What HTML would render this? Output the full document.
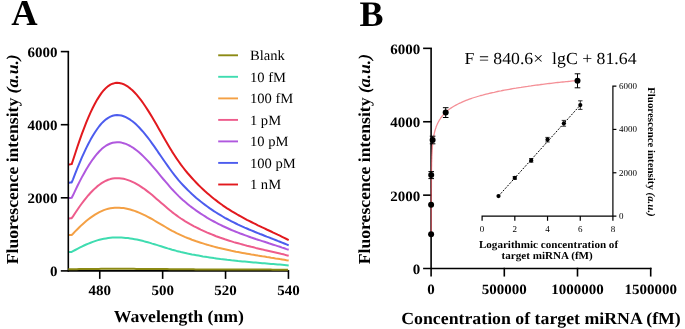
<!DOCTYPE html>
<html><head><meta charset="utf-8"><title>Figure</title>
<style>
html,body{margin:0;padding:0;background:#fff;}
svg{display:block;will-change:transform;}
text{font-family:"Liberation Serif",serif;fill:#000;text-rendering:geometricPrecision;}
.tk{font-size:14.29px;font-weight:bold;}
.ti{font-size:16.86px;font-weight:bold;}
.lg{font-size:14.17px;}
.eq{font-size:16.90px;}
.pl{font-size:36.5px;font-weight:bold;}
.itk{font-size:9px;}
.iti{font-size:10.57px;font-weight:bold;}
.iyt{font-size:10.35px;font-weight:bold;}
</style></head>
<body>
<svg width="685" height="329" viewBox="0 0 685 329">
<rect width="685" height="329" fill="#fff"/>
<!-- Panel A -->
<text transform="translate(11.30,24.90)" class="pl">A</text>
<text transform="translate(18.20,264.20) rotate(-90) scale(1.05,1)" class="ti" style="font-size:16.78px">Fluorescence intensity <tspan font-style="italic">(a.u.)</tspan></text>
<path d="M68.9,252.0 L70.5,251.9 L71.7,251.9 L73.0,251.2 L75.2,250.0 L77.4,248.8 L79.6,247.7 L81.8,246.6 L84.0,245.5 L86.2,244.5 L88.4,243.6 L90.6,242.7 L92.8,241.9 L95.0,241.1 L97.2,240.4 L99.4,239.8 L101.6,239.2 L103.8,238.8 L106.0,238.4 L108.2,238.0 L110.4,237.8 L112.6,237.6 L114.8,237.5 L117.0,237.5 L119.2,237.5 L121.4,237.6 L123.6,237.7 L125.8,237.9 L128.0,238.1 L130.2,238.4 L132.4,238.8 L134.6,239.2 L136.8,239.6 L139.0,240.1 L141.2,240.6 L143.4,241.1 L145.6,241.7 L147.8,242.3 L150.0,242.9 L152.2,243.6 L154.4,244.2 L156.6,244.9 L158.8,245.6 L161.0,246.3 L163.2,247.0 L165.5,247.7 L167.7,248.4 L169.9,249.0 L172.1,249.7 L174.3,250.3 L176.5,250.9 L178.7,251.4 L180.9,252.0 L183.1,252.5 L185.3,253.0 L187.5,253.5 L189.7,253.9 L191.9,254.4 L194.1,254.8 L196.3,255.2 L198.5,255.6 L200.7,256.0 L202.9,256.4 L205.1,256.7 L207.3,257.1 L209.5,257.4 L211.7,257.7 L213.9,258.1 L216.1,258.4 L218.3,258.7 L220.5,259.0 L222.7,259.2 L224.9,259.5 L227.1,259.8 L229.3,260.0 L231.5,260.3 L233.7,260.5 L235.9,260.7 L238.1,261.0 L240.3,261.2 L242.5,261.4 L244.7,261.6 L246.9,261.8 L249.1,262.0 L251.3,262.2 L253.5,262.4 L255.7,262.6 L257.9,262.8 L260.1,263.0 L262.3,263.2 L264.5,263.3 L266.7,263.5 L268.9,263.7 L271.1,263.9 L273.3,264.1 L275.5,264.3 L277.7,264.5 L279.9,264.6 L282.1,264.8 L284.3,265.0 L286.5,265.2 L288.7,265.4" fill="none" stroke="#3fdcb0" stroke-width="2" stroke-linejoin="round"/>
<path d="M68.9,235.1 L70.5,235.0 L71.7,235.0 L73.0,233.7 L75.2,231.4 L77.4,229.2 L79.6,227.0 L81.8,224.9 L84.0,223.0 L86.2,221.1 L88.4,219.3 L90.6,217.6 L92.8,216.1 L95.0,214.6 L97.2,213.3 L99.4,212.1 L101.6,211.1 L103.8,210.1 L106.0,209.4 L108.2,208.8 L110.4,208.3 L112.6,208.0 L114.8,207.7 L117.0,207.7 L119.2,207.7 L121.4,207.9 L123.6,208.1 L125.8,208.5 L128.0,209.0 L130.2,209.5 L132.4,210.2 L134.6,210.9 L136.8,211.7 L139.0,212.6 L141.2,213.6 L143.4,214.6 L145.6,215.7 L147.8,216.8 L150.0,218.0 L152.2,219.2 L154.4,220.5 L156.6,221.8 L158.8,223.1 L161.0,224.4 L163.2,225.7 L165.5,227.0 L167.7,228.3 L169.9,229.6 L172.1,230.8 L174.3,231.9 L176.5,233.1 L178.7,234.1 L180.9,235.1 L183.1,236.1 L185.3,237.1 L187.5,238.0 L189.7,238.8 L191.9,239.7 L194.1,240.5 L196.3,241.3 L198.5,242.0 L200.7,242.7 L202.9,243.4 L205.1,244.1 L207.3,244.8 L209.5,245.4 L211.7,246.0 L213.9,246.6 L216.1,247.2 L218.3,247.8 L220.5,248.3 L222.7,248.8 L224.9,249.3 L227.1,249.8 L229.3,250.3 L231.5,250.8 L233.7,251.2 L235.9,251.7 L238.1,252.1 L240.3,252.5 L242.5,252.9 L244.7,253.3 L246.9,253.7 L249.1,254.1 L251.3,254.5 L253.5,254.8 L255.7,255.2 L257.9,255.6 L260.1,255.9 L262.3,256.3 L264.5,256.6 L266.7,257.0 L268.9,257.3 L271.1,257.7 L273.3,258.0 L275.5,258.4 L277.7,258.7 L279.9,259.1 L282.1,259.4 L284.3,259.8 L286.5,260.2 L288.7,260.5" fill="none" stroke="#f4a044" stroke-width="2" stroke-linejoin="round"/>
<path d="M68.9,218.4 L70.5,218.3 L71.7,218.2 L73.0,216.4 L75.2,213.0 L77.4,209.7 L79.6,206.5 L81.8,203.5 L84.0,200.6 L86.2,197.8 L88.4,195.2 L90.6,192.8 L92.8,190.5 L95.0,188.4 L97.2,186.4 L99.4,184.7 L101.6,183.1 L103.8,181.8 L106.0,180.7 L108.2,179.8 L110.4,179.1 L112.6,178.6 L114.8,178.3 L117.0,178.2 L119.2,178.2 L121.4,178.4 L123.6,178.8 L125.8,179.4 L128.0,180.1 L130.2,180.9 L132.4,181.9 L134.6,182.9 L136.8,184.1 L139.0,185.4 L141.2,186.8 L143.4,188.3 L145.6,189.9 L147.8,191.6 L150.0,193.3 L152.2,195.1 L154.4,197.0 L156.6,198.9 L158.8,200.8 L161.0,202.7 L163.2,204.6 L165.5,206.5 L167.7,208.4 L169.9,210.3 L172.1,212.1 L174.3,213.8 L176.5,215.4 L178.7,217.0 L180.9,218.5 L183.1,219.9 L185.3,221.3 L187.5,222.6 L189.7,223.9 L191.9,225.1 L194.1,226.3 L196.3,227.4 L198.5,228.5 L200.7,229.6 L202.9,230.6 L205.1,231.6 L207.3,232.6 L209.5,233.5 L211.7,234.4 L213.9,235.3 L216.1,236.2 L218.3,237.0 L220.5,237.8 L222.7,238.5 L224.9,239.3 L227.1,240.0 L229.3,240.7 L231.5,241.4 L233.7,242.1 L235.9,242.7 L238.1,243.3 L240.3,243.9 L242.5,244.5 L244.7,245.1 L246.9,245.7 L249.1,246.2 L251.3,246.8 L253.5,247.3 L255.7,247.9 L257.9,248.4 L260.1,248.9 L262.3,249.4 L264.5,250.0 L266.7,250.5 L268.9,251.0 L271.1,251.5 L273.3,252.0 L275.5,252.5 L277.7,253.0 L279.9,253.5 L282.1,254.1 L284.3,254.6 L286.5,255.2 L288.7,255.7" fill="none" stroke="#ee5c8c" stroke-width="2" stroke-linejoin="round"/>
<path d="M68.9,198.1 L70.5,197.9 L71.7,197.8 L73.0,195.3 L75.2,190.6 L77.4,186.0 L79.6,181.6 L81.8,177.4 L84.0,173.4 L86.2,169.5 L88.4,165.9 L90.6,162.5 L92.8,159.3 L95.0,156.4 L97.2,153.7 L99.4,151.3 L101.6,149.1 L103.8,147.3 L106.0,145.7 L108.2,144.5 L110.4,143.5 L112.6,142.8 L114.8,142.4 L117.0,142.2 L119.2,142.3 L121.4,142.6 L123.6,143.2 L125.8,143.9 L128.0,144.9 L130.2,146.0 L132.4,147.3 L134.6,148.9 L136.8,150.5 L139.0,152.3 L141.2,154.3 L143.4,156.4 L145.6,158.6 L147.8,160.9 L150.0,163.3 L152.2,165.8 L154.4,168.3 L156.6,170.9 L158.8,173.6 L161.0,176.3 L163.2,179.0 L165.5,181.6 L167.7,184.2 L169.9,186.8 L172.1,189.3 L174.3,191.6 L176.5,193.9 L178.7,196.1 L180.9,198.2 L183.1,200.2 L185.3,202.1 L187.5,203.9 L189.7,205.7 L191.9,207.4 L194.1,209.0 L196.3,210.6 L198.5,212.1 L200.7,213.6 L202.9,215.0 L205.1,216.4 L207.3,217.8 L209.5,219.1 L211.7,220.3 L213.9,221.5 L216.1,222.7 L218.3,223.8 L220.5,224.9 L222.7,226.0 L224.9,227.0 L227.1,228.0 L229.3,229.0 L231.5,230.0 L233.7,230.9 L235.9,231.8 L238.1,232.6 L240.3,233.5 L242.5,234.3 L244.7,235.1 L246.9,235.9 L249.1,236.7 L251.3,237.5 L253.5,238.2 L255.7,239.0 L257.9,239.7 L260.1,240.4 L262.3,241.1 L264.5,241.8 L266.7,242.5 L268.9,243.3 L271.1,244.0 L273.3,244.7 L275.5,245.4 L277.7,246.1 L279.9,246.8 L282.1,247.6 L284.3,248.3 L286.5,249.1 L288.7,249.8" fill="none" stroke="#b058de" stroke-width="2" stroke-linejoin="round"/>
<path d="M68.9,182.7 L70.5,182.5 L71.7,182.4 L73.0,179.3 L75.2,173.6 L77.4,168.1 L79.6,162.8 L81.8,157.7 L84.0,152.8 L86.2,148.1 L88.4,143.7 L90.6,139.6 L92.8,135.8 L95.0,132.2 L97.2,129.0 L99.4,126.0 L101.6,123.4 L103.8,121.2 L106.0,119.3 L108.2,117.8 L110.4,116.6 L112.6,115.8 L114.8,115.3 L117.0,115.1 L119.2,115.2 L121.4,115.5 L123.6,116.2 L125.8,117.1 L128.0,118.3 L130.2,119.7 L132.4,121.3 L134.6,123.1 L136.8,125.1 L139.0,127.3 L141.2,129.7 L143.4,132.2 L145.6,134.8 L147.8,137.6 L150.0,140.5 L152.2,143.6 L154.4,146.7 L156.6,149.8 L158.8,153.1 L161.0,156.3 L163.2,159.5 L165.5,162.8 L167.7,165.9 L169.9,169.0 L172.1,172.0 L174.3,174.9 L176.5,177.6 L178.7,180.3 L180.9,182.8 L183.1,185.2 L185.3,187.5 L187.5,189.8 L189.7,191.9 L191.9,194.0 L194.1,195.9 L196.3,197.9 L198.5,199.7 L200.7,201.5 L202.9,203.2 L205.1,204.9 L207.3,206.5 L209.5,208.1 L211.7,209.6 L213.9,211.1 L216.1,212.5 L218.3,213.9 L220.5,215.2 L222.7,216.5 L224.9,217.8 L227.1,219.0 L229.3,220.2 L231.5,221.3 L233.7,222.4 L235.9,223.5 L238.1,224.6 L240.3,225.6 L242.5,226.6 L244.7,227.6 L246.9,228.5 L249.1,229.5 L251.3,230.4 L253.5,231.3 L255.7,232.2 L257.9,233.1 L260.1,234.0 L262.3,234.8 L264.5,235.7 L266.7,236.6 L268.9,237.4 L271.1,238.3 L273.3,239.1 L275.5,240.0 L277.7,240.9 L279.9,241.7 L282.1,242.6 L284.3,243.5 L286.5,244.4 L288.7,245.4" fill="none" stroke="#4c5cee" stroke-width="2" stroke-linejoin="round"/>
<path d="M68.9,164.5 L70.5,164.3 L71.7,164.1 L73.0,160.3 L75.2,153.5 L77.4,146.8 L79.6,140.4 L81.8,134.2 L84.0,128.3 L86.2,122.7 L88.4,117.4 L90.6,112.4 L92.8,107.8 L95.0,103.5 L97.2,99.6 L99.4,96.1 L101.6,92.9 L103.8,90.2 L106.0,87.9 L108.2,86.1 L110.4,84.7 L112.6,83.7 L114.8,83.1 L117.0,82.8 L119.2,82.9 L121.4,83.4 L123.6,84.2 L125.8,85.3 L128.0,86.7 L130.2,88.4 L132.4,90.3 L134.6,92.5 L136.8,94.9 L139.0,97.6 L141.2,100.4 L143.4,103.5 L145.6,106.7 L147.8,110.1 L150.0,113.6 L152.2,117.2 L154.4,121.0 L156.6,124.8 L158.8,128.7 L161.0,132.6 L163.2,136.5 L165.5,140.4 L167.7,144.2 L169.9,147.9 L172.1,151.6 L174.3,155.0 L176.5,158.4 L178.7,161.5 L180.9,164.6 L183.1,167.5 L185.3,170.3 L187.5,173.0 L189.7,175.5 L191.9,178.0 L194.1,180.4 L196.3,182.7 L198.5,185.0 L200.7,187.1 L202.9,189.2 L205.1,191.3 L207.3,193.2 L209.5,195.1 L211.7,196.9 L213.9,198.7 L216.1,200.4 L218.3,202.1 L220.5,203.7 L222.7,205.3 L224.9,206.8 L227.1,208.3 L229.3,209.7 L231.5,211.1 L233.7,212.4 L235.9,213.7 L238.1,215.0 L240.3,216.2 L242.5,217.4 L244.7,218.6 L246.9,219.8 L249.1,220.9 L251.3,222.0 L253.5,223.1 L255.7,224.2 L257.9,225.3 L260.1,226.3 L262.3,227.4 L264.5,228.4 L266.7,229.5 L268.9,230.5 L271.1,231.5 L273.3,232.6 L275.5,233.6 L277.7,234.7 L279.9,235.7 L282.1,236.8 L284.3,237.9 L286.5,239.0 L288.7,240.1" fill="none" stroke="#e2191e" stroke-width="2" stroke-linejoin="round"/>
<path d="M68.3,51.60 V270.9 H288.45" fill="none" stroke="#000" stroke-width="1.6"/>
<line x1="60.8" y1="270.90" x2="69.1" y2="270.90" stroke="#000" stroke-width="1.6"/>
<text transform="translate(57.40,276.20) scale(1.05,1)" class="tk" text-anchor="end">0</text>
<line x1="60.8" y1="197.80" x2="69.1" y2="197.80" stroke="#000" stroke-width="1.6"/>
<text transform="translate(57.40,203.10) scale(1.05,1)" class="tk" text-anchor="end">2000</text>
<line x1="60.8" y1="124.70" x2="69.1" y2="124.70" stroke="#000" stroke-width="1.6"/>
<text transform="translate(57.40,130.00) scale(1.05,1)" class="tk" text-anchor="end">4000</text>
<line x1="60.8" y1="51.60" x2="69.1" y2="51.60" stroke="#000" stroke-width="1.6"/>
<text transform="translate(57.40,56.90) scale(1.05,1)" class="tk" text-anchor="end">6000</text>
<line x1="99.75" y1="270.09999999999997" x2="99.75" y2="278.9" stroke="#000" stroke-width="1.6"/>
<text transform="translate(99.75,295.20) scale(1.05,1)" class="tk" text-anchor="middle">480</text>
<line x1="162.65" y1="270.09999999999997" x2="162.65" y2="278.9" stroke="#000" stroke-width="1.6"/>
<text transform="translate(162.65,295.20) scale(1.05,1)" class="tk" text-anchor="middle">500</text>
<line x1="225.55" y1="270.09999999999997" x2="225.55" y2="278.9" stroke="#000" stroke-width="1.6"/>
<text transform="translate(225.55,295.20) scale(1.05,1)" class="tk" text-anchor="middle">520</text>
<line x1="288.45" y1="270.09999999999997" x2="288.45" y2="278.9" stroke="#000" stroke-width="1.6"/>
<text transform="translate(288.45,295.20) scale(1.05,1)" class="tk" text-anchor="middle">540</text>
<path d="M68.3,269.3 L69.9,269.3 L71.1,269.3 L72.4,269.2 L74.6,269.2 L76.8,269.2 L79.0,269.1 L81.2,269.1 L83.4,269.0 L85.6,269.0 L87.8,269.0 L90.0,269.0 L92.2,268.9 L94.4,268.9 L96.6,268.9 L98.8,268.9 L101.0,268.8 L103.2,268.8 L105.4,268.8 L107.6,268.8 L109.8,268.8 L112.0,268.8 L114.2,268.8 L116.4,268.8 L118.6,268.8 L120.8,268.8 L123.0,268.8 L125.2,268.8 L127.4,268.8 L129.6,268.8 L131.8,268.8 L134.0,268.8 L136.2,268.9 L138.4,268.9 L140.6,268.9 L142.8,268.9 L145.0,268.9 L147.2,268.9 L149.4,269.0 L151.6,269.0 L153.8,269.0 L156.0,269.0 L158.2,269.0 L160.4,269.1 L162.6,269.1 L164.9,269.1 L167.1,269.1 L169.3,269.2 L171.5,269.2 L173.7,269.2 L175.9,269.2 L178.1,269.2 L180.3,269.3 L182.5,269.3 L184.7,269.3 L186.9,269.3 L189.1,269.3 L191.3,269.3 L193.5,269.3 L195.7,269.4 L197.9,269.4 L200.1,269.4 L202.3,269.4 L204.5,269.4 L206.7,269.4 L208.9,269.4 L211.1,269.4 L213.3,269.5 L215.5,269.5 L217.7,269.5 L219.9,269.5 L222.1,269.5 L224.3,269.5 L226.5,269.5 L228.7,269.5 L230.9,269.5 L233.1,269.5 L235.3,269.5 L237.5,269.6 L239.7,269.6 L241.9,269.6 L244.1,269.6 L246.3,269.6 L248.5,269.6 L250.7,269.6 L252.9,269.6 L255.1,269.6 L257.3,269.6 L259.5,269.6 L261.7,269.6 L263.9,269.6 L266.1,269.6 L268.3,269.6 L270.5,269.6 L272.7,269.7 L274.9,269.7 L277.1,269.7 L279.3,269.7 L281.5,269.7 L283.7,269.7 L285.9,269.7 L288.1,269.7" fill="none" stroke="#8c8a14" stroke-width="2"/>
<text transform="translate(178.80,321.50) scale(1.05,1)" class="ti" text-anchor="middle">Wavelength (nm)</text>
<line x1="218.2" y1="55.3" x2="238" y2="55.3" stroke="#8c8a14" stroke-width="1.9"/>
<text transform="translate(249.90,60.20) scale(1.03,1)" class="lg">Blank</text>
<line x1="218.2" y1="76.8" x2="238" y2="76.8" stroke="#3fdcb0" stroke-width="1.9"/>
<text transform="translate(249.90,81.73) scale(1.03,1)" class="lg">10 fM</text>
<line x1="218.2" y1="98.4" x2="238" y2="98.4" stroke="#f4a044" stroke-width="1.9"/>
<text transform="translate(249.90,103.26) scale(1.03,1)" class="lg">100 fM</text>
<line x1="218.2" y1="119.9" x2="238" y2="119.9" stroke="#ee5c8c" stroke-width="1.9"/>
<text transform="translate(249.90,124.79) scale(1.03,1)" class="lg">1 pM</text>
<line x1="218.2" y1="141.4" x2="238" y2="141.4" stroke="#b058de" stroke-width="1.9"/>
<text transform="translate(249.90,146.32) scale(1.03,1)" class="lg">10 pM</text>
<line x1="218.2" y1="162.9" x2="238" y2="162.9" stroke="#4c5cee" stroke-width="1.9"/>
<text transform="translate(249.90,167.85) scale(1.03,1)" class="lg">100 pM</text>
<line x1="218.2" y1="184.5" x2="238" y2="184.5" stroke="#e2191e" stroke-width="1.9"/>
<text transform="translate(249.90,189.38) scale(1.03,1)" class="lg">1 nM</text>
<!-- Panel B -->
<text transform="translate(359.60,25.50)" class="pl" style="font-size:36.00px">B</text>
<text transform="translate(370.30,264.20) rotate(-90) scale(1.05,1)" class="ti" style="font-size:16.81px">Fluorescence intensity <tspan font-style="italic">(a.u.)</tspan></text>
<path d="M431.1,48.35 V276.55" fill="none" stroke="#000" stroke-width="1.6"/>
<path d="M423.1,268.55 H651.50" fill="none" stroke="#000" stroke-width="1.6"/>
<line x1="423.1" y1="195.15" x2="431.90000000000003" y2="195.15" stroke="#000" stroke-width="1.6"/>
<line x1="423.1" y1="121.75" x2="431.90000000000003" y2="121.75" stroke="#000" stroke-width="1.6"/>
<line x1="423.1" y1="48.35" x2="431.90000000000003" y2="48.35" stroke="#000" stroke-width="1.6"/>
<text transform="translate(420.20,273.95) scale(1.05,1)" class="tk" text-anchor="end">0</text>
<text transform="translate(420.20,200.55) scale(1.05,1)" class="tk" text-anchor="end">2000</text>
<text transform="translate(420.20,127.15) scale(1.05,1)" class="tk" text-anchor="end">4000</text>
<text transform="translate(420.20,53.75) scale(1.05,1)" class="tk" text-anchor="end">6000</text>
<text transform="translate(431.10,294.40) scale(1.05,1)" class="tk" text-anchor="middle">0</text>
<line x1="504.30" y1="267.75" x2="504.30" y2="276.55" stroke="#000" stroke-width="1.6"/>
<text transform="translate(504.30,294.40) scale(1.05,1)" class="tk" text-anchor="middle">500000</text>
<line x1="577.50" y1="267.75" x2="577.50" y2="276.55" stroke="#000" stroke-width="1.6"/>
<text transform="translate(577.50,294.40) scale(1.05,1)" class="tk" text-anchor="middle">1000000</text>
<line x1="650.70" y1="267.75" x2="650.70" y2="276.55" stroke="#000" stroke-width="1.6"/>
<text transform="translate(650.70,294.40) scale(1.05,1)" class="tk" text-anchor="middle">1500000</text>
<path d="M431.3,235.6 L431.3,235.0 L431.3,234.3 L431.3,233.7 L431.3,233.1 L431.3,232.5 L431.3,231.9 L431.3,231.2 L431.3,230.6 L431.3,230.0 L431.3,229.4 L431.3,228.8 L431.3,228.1 L431.3,227.5 L431.3,226.9 L431.3,226.3 L431.3,225.7 L431.3,225.0 L431.3,224.4 L431.3,223.8 L431.3,223.2 L431.3,222.6 L431.3,221.9 L431.3,221.3 L431.3,220.7 L431.3,220.1 L431.3,219.5 L431.3,218.8 L431.3,218.2 L431.3,217.6 L431.3,217.0 L431.3,216.4 L431.3,215.7 L431.3,215.1 L431.3,214.5 L431.3,213.9 L431.3,213.3 L431.3,212.6 L431.3,212.0 L431.3,211.4 L431.3,210.8 L431.3,210.2 L431.3,209.5 L431.3,208.9 L431.3,208.3 L431.3,207.7 L431.3,207.1 L431.3,206.4 L431.3,205.8 L431.3,205.2 L431.3,204.6 L431.3,204.0 L431.3,203.3 L431.3,202.7 L431.3,202.1 L431.3,201.5 L431.3,200.9 L431.3,200.2 L431.3,199.6 L431.3,199.0 L431.3,198.4 L431.3,197.8 L431.3,197.1 L431.3,196.5 L431.3,195.9 L431.3,195.3 L431.3,194.7 L431.3,194.0 L431.3,193.4 L431.3,192.8 L431.3,192.2 L431.3,191.6 L431.3,190.9 L431.3,190.3 L431.3,189.7 L431.3,189.1 L431.3,188.5 L431.4,187.8 L431.4,187.2 L431.4,186.6 L431.4,186.0 L431.4,185.4 L431.4,184.7 L431.4,184.1 L431.4,183.5 L431.4,182.9 L431.4,182.3 L431.4,181.6 L431.4,181.0 L431.4,180.4 L431.4,179.8 L431.4,179.2 L431.4,178.5 L431.4,177.9 L431.4,177.3 L431.4,176.7 L431.4,176.1 L431.4,175.4 L431.4,174.8 L431.4,174.2 L431.4,173.6 L431.5,173.0 L431.5,172.3 L431.5,171.7 L431.5,171.1 L431.5,170.5 L431.5,169.9 L431.5,169.2 L431.5,168.6 L431.5,168.0 L431.5,167.4 L431.5,166.8 L431.6,166.1 L431.6,165.5 L431.6,164.9 L431.6,164.3 L431.6,163.7 L431.6,163.0 L431.6,162.4 L431.7,161.8 L431.7,161.2 L431.7,160.6 L431.7,159.9 L431.7,159.3 L431.8,158.7 L431.8,158.1 L431.8,157.4 L431.8,156.8 L431.8,156.2 L431.9,155.6 L431.9,155.0 L431.9,154.3 L432.0,153.7 L432.0,153.1 L432.0,152.5 L432.1,151.9 L432.1,151.2 L432.1,150.6 L432.2,150.0 L432.2,149.4 L432.3,148.8 L432.3,148.1 L432.3,147.5 L432.4,146.9 L432.4,146.3 L432.5,145.7 L432.6,145.0 L432.6,144.4 L432.7,143.8 L432.7,143.2 L432.8,142.6 L432.9,141.9 L433.0,141.3 L433.0,140.7 L433.1,140.1 L433.2,139.5 L433.3,138.8 L433.4,138.2 L433.5,137.6 L433.6,137.0 L433.7,136.4 L433.8,135.7 L433.9,135.1 L434.1,134.5 L434.2,133.9 L434.3,133.2 L434.5,132.6 L434.6,132.0 L434.8,131.4 L435.0,130.8 L435.1,130.1 L435.3,129.5 L435.5,128.9 L435.7,128.3 L435.9,127.7 L436.1,127.0 L436.3,126.4 L436.6,125.8 L436.8,125.2 L437.1,124.6 L437.4,123.9 L437.7,123.3 L438.0,122.7 L438.3,122.1 L438.6,121.4 L439.0,120.8 L439.3,120.2 L439.7,119.6 L440.1,119.0 L440.5,118.3 L441.0,117.7 L441.4,117.1 L441.9,116.5 L442.4,115.8 L442.9,115.2 L443.5,114.6 L444.0,114.0 L444.6,113.3 L445.3,112.7 L445.9,112.1 L447.6,110.6 L449.3,109.3 L450.9,108.1 L452.6,107.0 L454.3,106.0 L455.9,105.1 L457.6,104.2 L459.3,103.3 L461.0,102.6 L462.6,101.8 L464.3,101.1 L466.0,100.4 L467.6,99.8 L469.3,99.2 L471.0,98.6 L472.6,98.0 L474.3,97.5 L476.0,97.0 L477.6,96.5 L479.3,96.0 L481.0,95.5 L482.6,95.1 L484.3,94.6 L486.0,94.2 L487.6,93.8 L489.3,93.4 L491.0,93.0 L492.6,92.6 L494.3,92.3 L496.0,91.9 L497.6,91.5 L499.3,91.2 L501.0,90.9 L502.6,90.5 L504.3,90.2 L506.0,89.9 L507.7,89.6 L509.3,89.3 L511.0,89.0 L512.7,88.7 L514.3,88.4 L516.0,88.2 L517.7,87.9 L519.3,87.6 L521.0,87.4 L522.7,87.1 L524.3,86.8 L526.0,86.6 L527.7,86.4 L529.3,86.1 L531.0,85.9 L532.7,85.6 L534.3,85.4 L536.0,85.2 L537.7,85.0 L539.3,84.8 L541.0,84.5 L542.7,84.3 L544.3,84.1 L546.0,83.9 L547.7,83.7 L549.3,83.5 L551.0,83.3 L552.7,83.1 L554.4,82.9 L556.0,82.7 L557.7,82.5 L559.4,82.4 L561.0,82.2 L562.7,82.0 L564.4,81.8 L566.0,81.6 L567.7,81.5 L569.4,81.3 L571.0,81.1 L572.7,80.9 L574.4,80.8 L576.0,80.6 L577.7,80.5" fill="none" stroke="#f0646e" stroke-width="1.3" stroke-opacity="0.72"/>
<circle cx="431.1" cy="234.3" r="3" fill="#000"/>
<circle cx="431.1" cy="204.8" r="3" fill="#000"/>
<path d="M431.2,171.6 V178.6 M428.4,171.6 h5.6 M428.4,178.6 h5.6" stroke="#000" stroke-width="1" fill="none"/>
<circle cx="431.2" cy="175.1" r="3" fill="#000"/>
<path d="M432.6,136.2 V143.8 M429.8,136.2 h5.6 M429.8,143.8 h5.6" stroke="#000" stroke-width="1" fill="none"/>
<circle cx="432.6" cy="140.0" r="3" fill="#000"/>
<path d="M445.7,107.7 V117.5 M442.9,107.7 h5.6 M442.9,117.5 h5.6" stroke="#000" stroke-width="1" fill="none"/>
<circle cx="445.7" cy="112.6" r="3" fill="#000"/>
<path d="M577.5,73.8 V87.8 M574.7,73.8 h5.6 M574.7,87.8 h5.6" stroke="#000" stroke-width="1" fill="none"/>
<circle cx="577.5" cy="80.8" r="3" fill="#000"/>
<text transform="translate(464.60,63.80) scale(1.05,1)" class="eq" xml:space="preserve">F = 840.6×  lgC + 81.64</text>
<text transform="translate(541.00,323.60) scale(1.05,1)" class="ti" text-anchor="middle" style="font-size:16.95px">Concentration of target miRNA (fM)</text>
<path d="M482.1,220.79999999999998 V216.1 H616.4" fill="none" stroke="#000" stroke-width="1.2"/>
<path d="M616.4,86.10 H612.9 V220.79999999999998" fill="none" stroke="#000" stroke-width="1.2"/>
<line x1="612.9" y1="172.77" x2="616.4" y2="172.77" stroke="#000" stroke-width="1.2"/>
<line x1="612.9" y1="129.43" x2="616.4" y2="129.43" stroke="#000" stroke-width="1.2"/>
<text transform="translate(619.00,219.10)" class="itk">0</text>
<text transform="translate(619.00,175.77)" class="itk">2000</text>
<text transform="translate(619.00,132.43)" class="itk">4000</text>
<text transform="translate(619.00,89.10)" class="itk">6000</text>
<line x1="514.82" y1="216.1" x2="514.82" y2="220.79999999999998" stroke="#000" stroke-width="1.2"/>
<line x1="547.54" y1="216.1" x2="547.54" y2="220.79999999999998" stroke="#000" stroke-width="1.2"/>
<line x1="580.26" y1="216.1" x2="580.26" y2="220.79999999999998" stroke="#000" stroke-width="1.2"/>
<text transform="translate(482.10,231.60)" class="itk" text-anchor="middle">0</text>
<text transform="translate(514.82,231.60)" class="itk" text-anchor="middle">2</text>
<text transform="translate(547.54,231.60)" class="itk" text-anchor="middle">4</text>
<text transform="translate(580.26,231.60)" class="itk" text-anchor="middle">6</text>
<text transform="translate(612.98,231.60)" class="itk" text-anchor="middle">8</text>
<line x1="498.5" y1="196.1" x2="580.3" y2="105.1" stroke="#000" stroke-width="1" stroke-dasharray="1.9 1.4"/>
<circle cx="498.5" cy="196.1" r="2.1" fill="#000"/>
<path d="M514.8,176.6 V179.2 M512.6,176.6 h4.4 M512.6,179.2 h4.4" stroke="#000" stroke-width="0.8" fill="none"/>
<circle cx="514.8" cy="177.9" r="2.1" fill="#000"/>
<path d="M531.2,158.6 V162.2 M529.0,158.6 h4.4 M529.0,162.2 h4.4" stroke="#000" stroke-width="0.8" fill="none"/>
<circle cx="531.2" cy="160.4" r="2.1" fill="#000"/>
<path d="M547.5,137.4 V142.0 M545.3,137.4 h4.4 M545.3,142.0 h4.4" stroke="#000" stroke-width="0.8" fill="none"/>
<circle cx="547.5" cy="139.7" r="2.1" fill="#000"/>
<path d="M563.9,120.4 V126.2 M561.7,120.4 h4.4 M561.7,126.2 h4.4" stroke="#000" stroke-width="0.8" fill="none"/>
<circle cx="563.9" cy="123.3" r="2.1" fill="#000"/>
<path d="M580.3,100.8 V109.4 M578.1,100.8 h4.4 M578.1,109.4 h4.4" stroke="#000" stroke-width="0.8" fill="none"/>
<circle cx="580.3" cy="105.1" r="2.1" fill="#000"/>
<text transform="translate(548.50,247.60) scale(1.05,1)" class="iti" text-anchor="middle">Logarithmic concentration of</text>
<text transform="translate(547.20,258.90) scale(1.05,1)" class="iti" text-anchor="middle">target miRNA (fM)</text>
<text transform="translate(647.90,87.20) rotate(90) scale(1.05,1)" class="iyt">Fluorescence intensity <tspan font-style="italic">(a.u.)</tspan></text>
</svg>
</body></html>
